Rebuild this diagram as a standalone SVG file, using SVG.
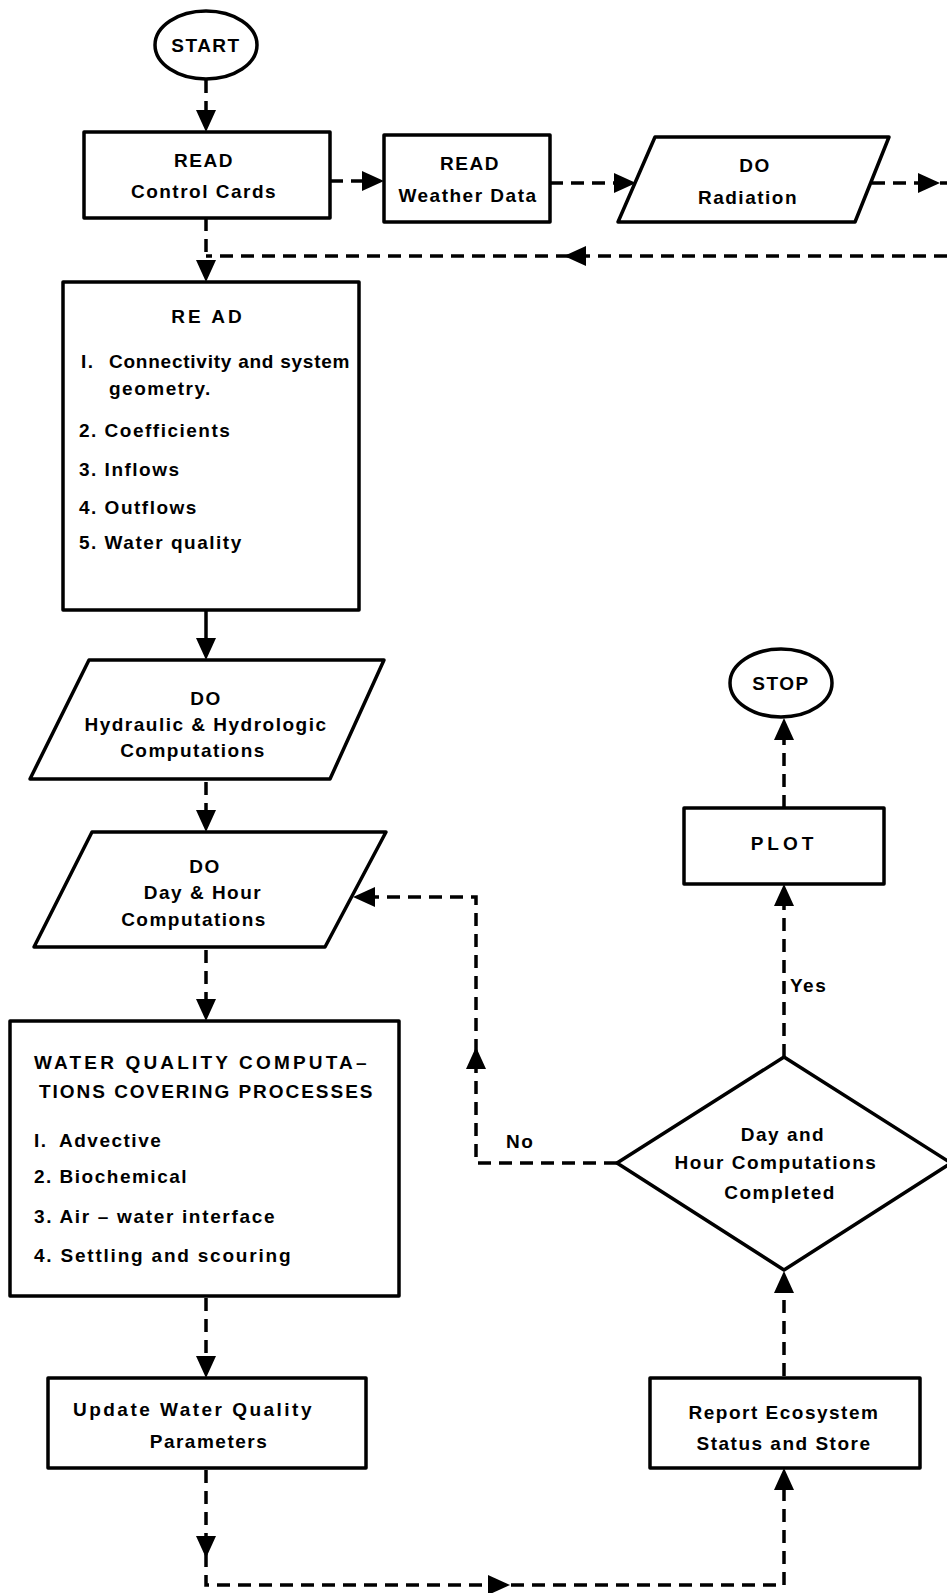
<svg xmlns="http://www.w3.org/2000/svg" xmlns:xlink="http://www.w3.org/1999/xlink" width="947" height="1593" viewBox="0 0 947 1593">
<defs>
<style>
.n{fill:#fff;stroke:#000;stroke-width:3.5;stroke-linejoin:round}
.t{font-family:"Liberation Sans",Arial,sans-serif;font-weight:bold;font-size:19px;fill:#000;letter-spacing:1.5px}
.c{text-anchor:middle}
.d{fill:none;stroke:#000;stroke-width:3.5;stroke-dasharray:13 8}
.s{fill:none;stroke:#000;stroke-width:3.5}
</style>
<path id="ah" d="M0,0 L-22,-10 L-22,10 Z" fill="#000"/>
</defs>
<rect width="947" height="1593" fill="#fff"/>

<g id="connectors">
<path class="d" d="M206,80 V115"/>
<use xlink:href="#ah" transform="translate(206,132) rotate(90)"/>
<path class="d" d="M330,181 H365"/>
<use xlink:href="#ah" transform="translate(384,181)"/>
<path class="d" d="M550,183 H618"/>
<use xlink:href="#ah" transform="translate(636,183)"/>
<path class="d" d="M872,183 H920"/>
<use xlink:href="#ah" transform="translate(940,183)"/>
<path class="s" d="M940,183 H947"/>
<path class="d" d="M947,256 H206"/>
<use xlink:href="#ah" transform="translate(564,256) rotate(180)"/>
<path class="d" d="M206,218 V265"/>
<use xlink:href="#ah" transform="translate(206,282) rotate(90)"/>
<path class="s" d="M206,610 V640"/>
<use xlink:href="#ah" transform="translate(206,660) rotate(90)"/>
<path class="d" d="M206,782 V812"/>
<use xlink:href="#ah" transform="translate(206,832) rotate(90)"/>
<path class="d" d="M206,950 V1000"/>
<use xlink:href="#ah" transform="translate(206,1021) rotate(90)"/>
<path class="d" d="M206,1298 V1358"/>
<use xlink:href="#ah" transform="translate(206,1378) rotate(90)"/>
<path class="d" d="M206,1470 V1585 H784 V1488"/>
<use xlink:href="#ah" transform="translate(206,1558) rotate(90)"/>
<use xlink:href="#ah" transform="translate(510,1585)"/>
<use xlink:href="#ah" transform="translate(784,1468) rotate(-90)"/>
<path class="d" d="M784,1376 V1290"/>
<use xlink:href="#ah" transform="translate(784,1271) rotate(-90)"/>
<path class="d" d="M784,1057 V904"/>
<use xlink:href="#ah" transform="translate(784,884) rotate(-90)"/>
<path class="d" d="M784,808 V738"/>
<use xlink:href="#ah" transform="translate(784,718) rotate(-90)"/>
<path class="d" d="M617,1163 H476 V897 H372"/>
<use xlink:href="#ah" transform="translate(476,1047) rotate(-90)"/>
<use xlink:href="#ah" transform="translate(353,897) rotate(180)"/>
<text class="t" x="790" y="992">Yes</text>
<text class="t" x="506" y="1148">No</text>
</g>

<g id="start">
<ellipse class="n" cx="206" cy="45" rx="51" ry="34"/>
<text class="t c" x="206" y="52">START</text>
</g>

<g id="read-control">
<rect class="n" x="84" y="132" width="246" height="86"/>
<text class="t c" x="204" y="167">READ</text>
<text class="t c" x="204" y="198">Control Cards</text>
</g>

<g id="read-weather">
<rect class="n" x="384" y="135" width="166" height="87"/>
<text class="t c" x="470" y="170">READ</text>
<text class="t c" x="468" y="202">Weather Data</text>
</g>

<g id="do-radiation">
<polygon class="n" points="655,137 889,137 855,222 618,222"/>
<text class="t c" x="755" y="172">DO</text>
<text class="t c" x="748" y="204">Radiation</text>
</g>

<g id="read-main">
<rect class="n" x="63" y="282" width="296" height="328"/>
<text class="t c" x="208" y="323" style="letter-spacing:3px">RE AD</text>
<text class="t" x="81" y="368">I.</text>
<text class="t" x="109" y="368" textLength="242" lengthAdjust="spacing">Connectivity and system</text>
<text class="t" x="109" y="395">geometry.</text>
<text class="t" x="79" y="437">2. Coefficients</text>
<text class="t" x="79" y="476">3. Inflows</text>
<text class="t" x="79" y="514">4. Outflows</text>
<text class="t" x="79" y="549">5. Water quality</text>
</g>

<g id="do-hydraulic">
<polygon class="n" points="89,660 384,660 330,779 30,779"/>
<text class="t c" x="206" y="705">DO</text>
<text class="t c" x="206" y="731">Hydraulic &amp; Hydrologic</text>
<text class="t c" x="193" y="757">Computations</text>
</g>

<g id="do-dayhour">
<polygon class="n" points="92,832 386,832 325,947 34,947"/>
<text class="t c" x="205" y="873">DO</text>
<text class="t c" x="203" y="899">Day &amp; Hour</text>
<text class="t c" x="194" y="926">Computations</text>
</g>

<g id="wq-computations">
<rect class="n" x="10" y="1021" width="389" height="275"/>
<text class="t" x="34" y="1069" textLength="334" lengthAdjust="spacing">WATER QUALITY COMPUTA–</text>
<text class="t" x="39" y="1098" textLength="335" lengthAdjust="spacing">TIONS COVERING PROCESSES</text>
<text class="t" x="34" y="1147">I.</text>
<text class="t" x="59" y="1147">Advective</text>
<text class="t" x="34" y="1183">2. Biochemical</text>
<text class="t" x="34" y="1223" textLength="242" lengthAdjust="spacing">3. Air – water interface</text>
<text class="t" x="34" y="1262" textLength="258" lengthAdjust="spacing">4. Settling and scouring</text>
</g>

<g id="update">
<rect class="n" x="48" y="1378" width="318" height="90"/>
<text class="t" x="73" y="1416" textLength="240" lengthAdjust="spacing">Update Water Quality</text>
<text class="t c" x="209" y="1448">Parameters</text>
</g>

<g id="report">
<rect class="n" x="650" y="1378" width="270" height="90"/>
<text class="t c" x="784" y="1419">Report Ecosystem</text>
<text class="t c" x="784" y="1450">Status and Store</text>
</g>

<g id="decision">
<polygon class="n" points="617,1163 784,1057 951,1163 784,1270"/>
<text class="t c" x="783" y="1141">Day and</text>
<text class="t c" x="776" y="1169">Hour Computations</text>
<text class="t c" x="780" y="1199">Completed</text>
</g>

<g id="plot">
<rect class="n" x="684" y="808" width="200" height="76"/>
<text class="t c" x="784" y="850" style="letter-spacing:4px">PLOT</text>
</g>

<g id="stop">
<ellipse class="n" cx="781" cy="683" rx="51" ry="34"/>
<text class="t c" x="781" y="690">STOP</text>
</g>
</svg>
